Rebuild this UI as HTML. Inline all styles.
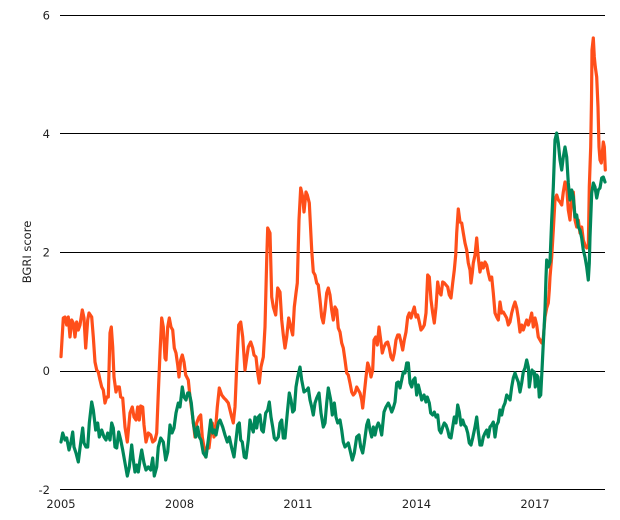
<!DOCTYPE html>
<html><head><meta charset="utf-8"><style>
html,body{margin:0;padding:0;background:#fff;}
svg{display:block;}
text{font-family:"DejaVu Sans","Liberation Sans",sans-serif;font-size:11.5px;fill:#222;}
</style></head><body>
<svg width="620" height="520" viewBox="0 0 620 520" xmlns="http://www.w3.org/2000/svg">
<g stroke="#000" stroke-width="1" shape-rendering="crispEdges">
<line x1="60" y1="15.5" x2="605" y2="15.5"/>
<line x1="60" y1="133.5" x2="605" y2="133.5"/>
<line x1="60" y1="252.5" x2="605" y2="252.5"/>
<line x1="60" y1="371.5" x2="605" y2="371.5"/>
<line x1="60" y1="489.5" x2="605" y2="489.5"/>
</g>
<g text-anchor="end">
<text x="50" y="19.5">6</text>
<text x="50" y="138">4</text>
<text x="50" y="256.5">2</text>
<text x="50" y="375">0</text>
<text x="50" y="494">-2</text>
</g>
<g text-anchor="middle">
<text x="61" y="508">2005</text>
<text x="179.5" y="508">2008</text>
<text x="298" y="508">2011</text>
<text x="416.5" y="508">2014</text>
<text x="535" y="508">2017</text>
</g>
<text x="0" y="0" text-anchor="middle" transform="translate(31,252) rotate(-90)">BGRI score</text>
<polyline fill="none" stroke="#ff4f1a" stroke-width="3.2" stroke-linejoin="round" stroke-linecap="round" points="61,356.7 63.3,318 65,317 66.7,325 68.3,317 70,337 71.7,320 73.3,323 75,337 76.7,322 78.3,330 80,325 82.3,310 84,318 85.7,348 87.7,320 89,313 91.7,317 93.3,337 95,362 96.7,370 98.3,372 100,380 101.7,387 103.3,390 105,403 106.7,397 108.3,397 110,333 111.3,327 112.7,347 114,377 116,392 117.3,387 119.3,387 120.7,397 122.7,398 125,427 127.3,442 130,413 132.3,407 134,417 136,420 137.7,407 139.3,420 140.7,406 142.7,407 144,425 146,442 148.3,433 150.7,435 152.7,442 155,440 156.7,433 158.3,393 160,353 161.7,318 163.3,327 165,358 166,360 167.7,327 169.3,318 171,327 172.7,330 174.3,348 176,353 177.7,365 179,377 180.7,360 182.3,355 184,362 185.7,375 188.3,380 190,397 192.7,417 195,437 196.7,423 199,417 200.7,415 202.3,437 204,447 205.7,457 207.3,447 209,448 210.7,433 212.3,423 214,437 215.7,427 217.3,407 219.3,388 221.7,395 224,398 226,400 228.3,403 230,410 231.7,417 233.3,423 235,407 236.7,367 238.7,325 240.7,322 242.7,337 245,370 246.7,358 248.3,347 250.7,342 252.7,348 254,355 256,357 257.7,373 259.3,383 261,367 263.3,357 265,327 266.7,260 267.7,228 270,233 271.7,297 273.3,307 275.7,315 277.7,288 280,292 281.7,320 283.3,335 285,348 286.7,337 288.7,318 290.7,327 292.7,335 294.3,307 296,293 297.3,283 299,220 300.7,188 302.7,197 304,212 306,192 307.3,195 309.3,203 311.7,250 313.3,272 315,275 316.7,283 318.3,285 320,300 321.7,317 323.3,323 325,310 326.7,293 328.3,288 330,295 331.7,310 333.3,320 335,307 336.7,310 338.3,328 340,332 341.7,343 343.3,348 345,360 346.7,373 348.3,375 350,383 351.7,392 353.3,395 355,393 356.7,387 358.3,390 360,393 361.7,400 362.7,408 364.3,393 366,377 367.7,363 369.3,368 371,377 372.7,370 374,340 375.7,337 377.3,345 379,327 380.7,340 382.3,353 384,347 386,343 387.7,342 389.3,348 391,357 392.7,360 394.3,353 396,340 397.7,335 399.3,335 401,342 402.7,350 404.3,340 406,332 407.7,317 409.3,313 411,318 412.7,312 414.3,307 416,317 417.7,315 419.3,322 421,330 422.7,328 424.3,325 426,313 427.7,275 429.3,277 431,300 432.7,313 434.3,323 436,307 437.7,282 439.3,292 441,295 442.7,282 444.3,283 446,285 447.7,287 449.3,295 451,298 452.7,283 454.3,270 455.7,255 456.7,233 458.3,209 460,222 461.7,223 463.3,233 465,243 466.7,250 468.3,263 470,270 471,283 472.3,273 473.3,263 475,255 476.7,238 478.3,258 480,272 481.7,263 483.3,268 485,262 486.7,265 488.3,273 490,280 491.7,277 493.3,293 495,313 496.7,317 498.3,320 500,302 501.7,313 503.3,312 505,315 506.7,318 508.3,325 510,322 511.7,313 513.3,307 515,302 516.7,308 518.3,318 520,332 521.7,325 523.3,330 525,325 526.7,320 528.3,325 530,320 531.7,313 533.3,327 535,318 536.7,325 538.3,337 540,340 541.7,343 543.3,338 545,317 546.7,308 548.3,303 549.3,290 550,277 551.7,257 553.3,230 555,200 556.7,195 558.3,200 560,202 561.7,205 563.3,192 565,182 566.7,187 568.3,210 570,220 571.7,197 573.3,192 575,220 576.7,227 578.3,220 580,233 581.7,227 583.3,240 585,245 586.7,248 588.3,247 589.3,187 590.7,147 591.5,100 592,50 593.3,38 594.3,57 595.3,67 596.7,77 598,107 599,147 600,160 601.3,163 602.3,153 603.3,142 604.3,147 605.3,170"/>
<polyline fill="none" stroke="#00875a" stroke-width="3.2" stroke-linejoin="round" stroke-linecap="round" points="61,442 62.7,433 65,440 66.7,438 69,450 71,442 72.7,432 74,447 76,453 78.3,462 80,448 82.7,428 84,443 86,447 87.7,447 89.3,423 91.7,402 93.3,410 95.7,430 97.7,423 99.3,437 101.7,430 104,437 106,440 107.7,433 110,440 111.7,423 113.3,428 115,447 116.7,448 118.7,432 120.7,440 122.7,450 125,463 127.3,476 129.3,467 131.7,445 133.3,460 135,472 136.7,465 138.3,472 140,460 141.7,450 144,463 146,470 148.3,467 150.7,470 152.7,458 154.3,476 156.7,467 158.3,447 160.7,438 163.3,442 165.7,460 167.7,452 170,425 172,433 174,428 176,413 178.3,403 180,407 182.3,387 184,397 186,400 187.7,393 189.3,393 191.3,403 193.3,423 195.7,437 197.7,427 199.3,437 201,440 203.3,453 206,457 208.3,440 210.7,420 212.7,433 214.3,430 216,435 218.3,423 220,420 222.7,427 225,435 227.3,442 229.3,437 231.7,448 234,457 236,440 237.7,425 239.3,423 240.7,440 242.3,442 244.3,457 246,458 248.3,440 250,420 251.7,427 253.3,432 255,417 256.7,428 258.3,417 260,415 261.7,430 263.3,432 265.7,413 267.7,410 269.3,402 271,417 272.7,427 274.3,438 276,440 278.3,437 280,423 281.7,420 283.3,438 285,438 287.3,413 289.3,393 291,400 292.7,412 294.3,410 296,387 297.7,377 300,367 301.7,380 304,392 306.7,390 308.3,388 310,400 311.7,407 313.3,415 315,403 316.7,398 319,393 321,413 323.3,427 325,423 326.7,403 328.3,388 330.7,400 332.3,415 334.3,403 336,417 337.7,423 340,420 341.7,430 343.3,442 345,447 346.7,445 348.3,443 350,450 352.3,460 354.3,453 356.7,437 359,435 360.7,447 362.7,453 364.3,443 366.7,425 368.3,420 370,430 371.7,437 373.3,427 375,435 376.7,427 378.3,423 380,427 381.7,435 384,412 386,407 388.3,403 390,407 391.7,412 393.3,408 395,402 396.7,383 398.3,382 400,388 401.7,380 403.3,372 405,373 406.7,363 408.3,363 410,383 411.7,387 413.3,380 415,378 416.7,395 418.3,385 420,392 421.7,400 424,395 426,402 427.3,397 429.3,403 430.7,413 432.7,415 434.3,412 436,417 437.7,415 439.3,430 441,433 442.7,427 444.3,423 446,425 447.7,430 449.3,437 451,438 452.7,427 454.3,417 456,423 457.7,405 459.3,412 461,425 462.7,420 464.3,425 466,427 467.7,433 469.3,443 471,445 472.7,438 475,427 476.7,417 478.3,432 480,445 481.7,445 483.3,437 485,433 486.7,430 488.3,437 490,427 491.7,425 493.3,422 495,437 496.7,425 498.3,422 500,410 501.7,415 503.3,407 505,403 506.7,395 508.3,397 510,400 511.7,387 513.3,378 515,373 516.7,378 518.3,382 520,392 521.7,383 523.3,372 525,368 526.7,360 528.3,367 529.3,387 530.7,377 532,370 533.3,373 534.3,372 535.3,387 536.7,375 538,377 539.3,397 540.7,395 542,370 543.3,343 545,310 546,277 546.7,260 548.3,267 550,262 551.7,220 553.3,187 555,140 556.7,133 558.3,143 560,160 561.7,170 563.3,157 565,147 566.7,157 568.3,183 570,200 571.7,190 573.3,197 575,217 576.7,215 578.3,227 580,230 581.7,238 583.3,250 585,257 586.7,267 588.3,280 589.3,263 590,237 591.7,193 593.3,183 595,187 596.7,198 598.3,190 600,188 601.7,178 603.3,177 605,182"/>
</svg>
</body></html>
